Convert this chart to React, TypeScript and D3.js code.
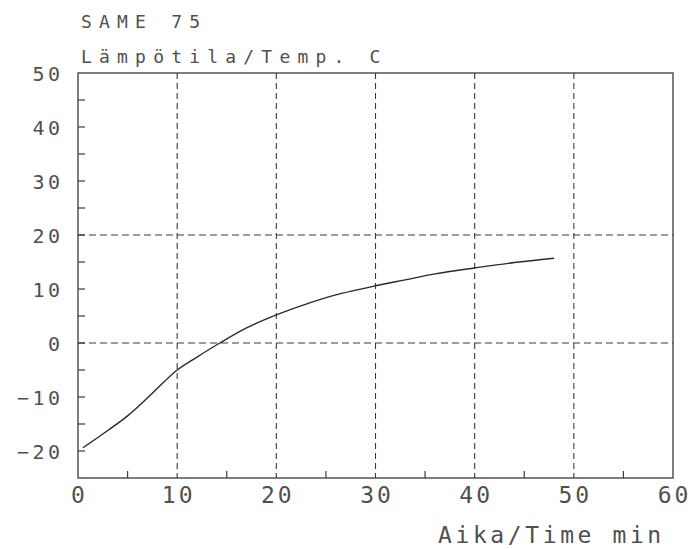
import React from "react";
import * as d3 from "d3";

const times = [0.5, 3, 5, 7.5, 10, 12, 14.3, 17, 20, 23, 26, 30, 33, 36, 40, 44, 48];
const temps = [-19.4, -16.2, -13.5, -9.3, -5, -2.6, 0, 2.8, 5.2, 7.2, 8.9, 10.6, 11.7, 12.8, 13.9, 14.9, 15.7];
const xTicks = [0, 10, 20, 30, 40, 50, 60];
const yTicks = [-20, -10, 0, 10, 20, 30, 40, 50];
const xGrid = [10, 20, 30, 40, 50];
const yGrid = [0, 20];
const xMinor = [5, 15, 25, 35, 45, 55];
const yMinor = [-20, -15, -10, -5, 0, 5, 10, 15, 20, 25, 30, 35, 40, 45];
const title = "SAME 75";
const yTitle = "Lämpötila/Temp. C";
const xTitle = "Aika/Time min";

const FONT = "'DejaVu Sans Mono', monospace";
const INK = "#3a3a3a";
const TXT = "#505050";

export default function App() {
  const left = 78, right = 673, top = 73, bottom = 478;
  const x = d3.scaleLinear().domain([0, 60]).range([left, right]);
  const y = d3.scaleLinear().domain([-25, 50]).range([bottom, top]);
  const line = d3
    .line<number>()
    .x((_, i) => x(times[i]))
    .y((d) => y(d))
    .curve(d3.curveCatmullRom.alpha(0.5));

  return (
    <svg
      width={691}
      height={549}
      style={{ position: "absolute", left: 0, top: 0, background: "#fff" }}
    >
      <rect x={0} y={0} width={691} height={549} fill="#fff" />
      {/* titles */}
      <text x={81} y={28} fontFamily={FONT} fontSize={18} letterSpacing={7.2} fill={TXT}>
        {title}
      </text>
      <text x={81} y={63} fontFamily={FONT} fontSize={18} letterSpacing={7.2} fill={TXT}>
        {yTitle}
      </text>
      <text x={438} y={543} fontFamily={FONT} fontSize={23} letterSpacing={3.6} fill={TXT}>
        {xTitle}
      </text>

      {/* grid */}
      {xGrid.map((v) => (
        <line
          key={"gx" + v}
          x1={x(v)}
          x2={x(v)}
          y1={top}
          y2={bottom}
          stroke={INK}
          strokeWidth={1.1}
          strokeDasharray="6,4"
        />
      ))}
      {yGrid.map((v) => (
        <line
          key={"gy" + v}
          x1={left}
          x2={right}
          y1={y(v)}
          y2={y(v)}
          stroke={INK}
          strokeWidth={1.1}
          strokeDasharray="7,4"
        />
      ))}

      {/* minor ticks */}
      {xMinor.map((v) => (
        <line key={"tx" + v} x1={x(v)} x2={x(v)} y1={bottom} y2={bottom - 7} stroke={INK} strokeWidth={1.2} />
      ))}
      {yMinor.map((v) => (
        <line key={"ty" + v} x1={left} x2={left + 7} y1={y(v)} y2={y(v)} stroke={INK} strokeWidth={1.2} />
      ))}

      {/* frame */}
      <rect
        x={left}
        y={top}
        width={right - left}
        height={bottom - top}
        fill="none"
        stroke={INK}
        strokeWidth={1.3}
      />

      {/* tick labels */}
      {yTicks.map((v) => (
        <text
          key={"ly" + v}
          x={60 + 3.5}
          y={y(v) + 7.5}
          textAnchor="end"
          fontFamily={FONT}
          fontSize={20}
          letterSpacing={3.5}
          fill={TXT}
        >
          {v < 0 ? "\u2212" + Math.abs(v) : String(v)}
        </text>
      ))}
      {xTicks.map((v) => (
        <text
          key={"lx" + v}
          x={x(v) + 1.5}
          y={503}
          textAnchor="middle"
          fontFamily={FONT}
          fontSize={23}
          letterSpacing={3}
          fill={TXT}
        >
          {String(v)}
        </text>
      ))}

      {/* curve */}
      <path d={line(temps) || ""} fill="none" stroke="#2a2a2a" strokeWidth={1.4} />
    </svg>
  );
}
